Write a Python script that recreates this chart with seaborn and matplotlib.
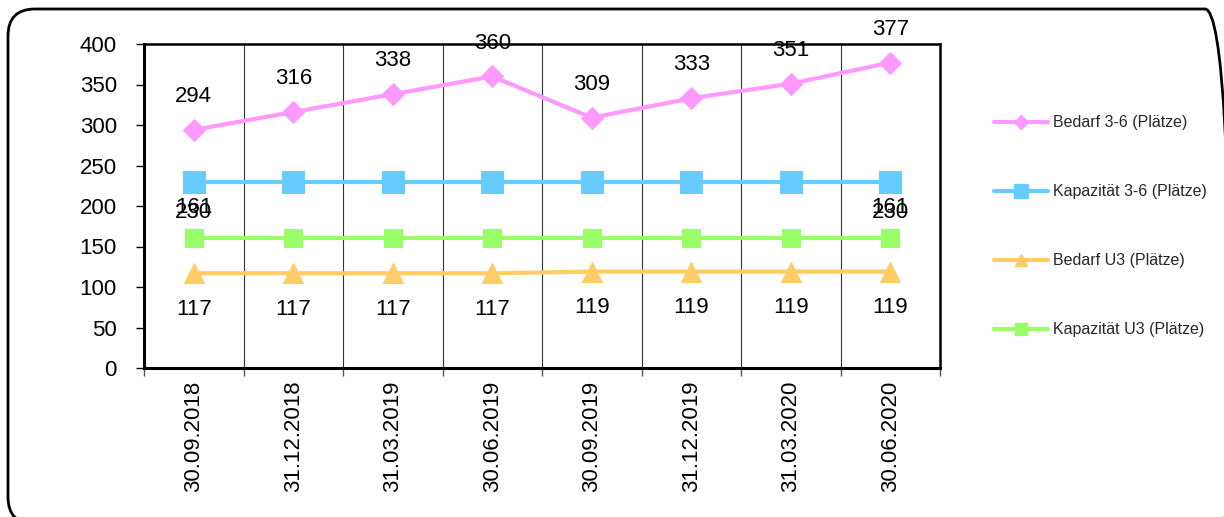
import matplotlib
matplotlib.use("Agg")
import matplotlib.pyplot as plt
from matplotlib.lines import Line2D
from matplotlib.patches import FancyBboxPatch
from matplotlib.transforms import IdentityTransform
import seaborn as sns
import pandas as pd

dates = ["30.09.2018", "31.12.2018", "31.03.2019", "30.06.2019",
         "30.09.2019", "31.12.2019", "31.03.2020", "30.06.2020"]
bedarf_36 = [294, 316, 338, 360, 309, 333, 351, 377]
kapazitaet_36 = [230, 230, 230, 230, 230, 230, 230, 230]
bedarf_u3 = [117, 117, 117, 117, 119, 119, 119, 119]
kapazitaet_u3 = [161, 161, 161, 161, 161, 161, 161, 161]

series_names = ["Bedarf 3-6 (Plätze)", "Kapazität 3-6 (Plätze)",
                "Bedarf U3 (Plätze)", "Kapazität U3 (Plätze)"]
series_values = [bedarf_36, kapazitaet_36, bedarf_u3, kapazitaet_u3]
colors = ["#FF99FF", "#66CCFF", "#FFCC66", "#99FF66"]
markers = ["D", "s", "^", "s"]
marker_sizes = [11, 16, 15, 13]
# which points get a value label, and label offset (points, + above / - below)
label_points = [range(8), [0, 7], range(8), [0, 7]]
label_offsets = [24, -22, -26, 22]

sns.set_theme(style="white")
plt.rcParams["font.family"] = ["Liberation Sans", "DejaVu Sans"]

rows = []
for name, vals in zip(series_names, series_values):
    for i, v in enumerate(vals):
        rows.append({"pos": i, "value": v, "series": name})
df = pd.DataFrame(rows)

fig = plt.figure(figsize=(12.24, 5.17), dpi=100)
ax = fig.add_axes([144 / 1224, 1 - 368 / 517, 796 / 1224, 324 / 517])

for name, col, mk, ms in zip(series_names, colors, markers, marker_sizes):
    sub = df[df["series"] == name]
    sns.lineplot(data=sub, x="pos", y="value", ax=ax, color=col,
                 marker=mk, markersize=ms, markeredgecolor=col,
                 linewidth=3, legend=False, clip_on=False, zorder=3,
                 solid_joinstyle="round")

for vals, pts, off in zip(series_values, label_points, label_offsets):
    for i in pts:
        ax.annotate(str(vals[i]), (i, vals[i]), xytext=(0, off),
                    textcoords="offset points", ha="center", va="center",
                    fontsize=16, color="black", zorder=5,
                    annotation_clip=False)

ax.set_xlim(-0.5, 7.5)
ax.set_ylim(0, 400)
ax.set_yticks(range(0, 401, 50))
ax.set_xticks([i + 0.5 for i in range(-1, 8)], minor=False)
ax.set_xticklabels([""] * 9)
ax.set_xticks(range(8), minor=True)
ax.set_xticklabels(dates, minor=True, rotation=90, fontsize=16)
ax.tick_params(axis="x", which="minor", length=0, pad=9, colors="black")
ax.tick_params(axis="x", which="major", length=6, width=1, color="#555555",
               direction="out", bottom=True)
ax.tick_params(axis="y", length=6, width=1, direction="out", left=True,
               labelsize=16, pad=13.5, colors="black")
ax.set_xlabel("")
ax.set_ylabel("")

for b in range(1, 8):
    ax.axvline(b - 0.5, color="#333333", linewidth=0.8, zorder=1)

for side in ["left", "bottom"]:
    ax.spines[side].set_linewidth(2.2)
    ax.spines[side].set_color("black")
for side in ["top", "right"]:
    ax.spines[side].set_linewidth(1.8)
    ax.spines[side].set_color("black")

handles = [Line2D([0], [0], color=c, marker=m, markersize=ms * 0.62,
                  markeredgecolor=c, linewidth=3)
           for c, m, ms in zip(colors, markers, marker_sizes)]
fig.legend(handles, series_names, loc="upper left",
           bbox_to_anchor=(988 / 1224, 1 - 109 / 517), frameon=False,
           fontsize=11.5, labelspacing=3.38, handlelength=3.38,
           handletextpad=0.31, borderaxespad=0)

border = FancyBboxPatch((8, -7), 1224, 515,
                        boxstyle="round,pad=0,rounding_size=27",
                        transform=IdentityTransform(), fill=False,
                        edgecolor="black", linewidth=2)
fig.patches.append(border)

fig.savefig("out.png", dpi=100)
